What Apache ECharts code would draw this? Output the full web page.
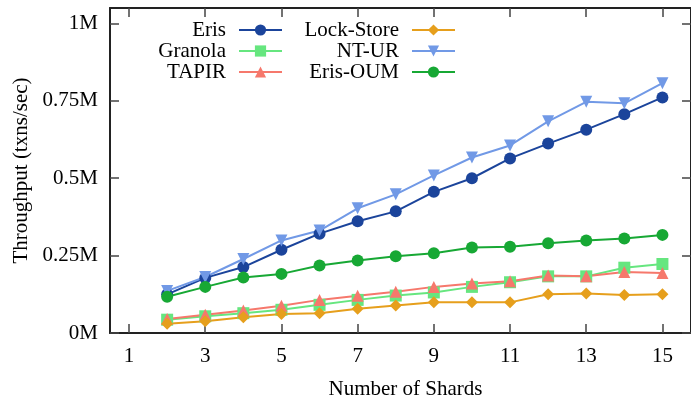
<!DOCTYPE html>
<html>
<head>
<meta charset="utf-8">
<script src="https://cdn.jsdelivr.net/npm/echarts@6/dist/echarts.min.js"></script>
<style>
html,body{margin:0;padding:0;background:#fff;}
#chart{width:691px;height:405px;}
</style>
</head>
<body>
<div id="chart"></div>
<script>
const shards = [2, 3, 4, 5, 6, 7, 8, 9, 10, 11, 12, 13, 14, 15];
const xTicks = [1, 3, 5, 7, 9, 11, 13, 15];
const yTicks = [0, 250000, 500000, 750000, 1000000];
const eris = [125000, 178000, 213000, 269000, 321000, 361000, 393000, 456000, 500000, 564000, 612000, 657000, 707000, 761000];
const granola = [43000, 54000, 64000, 75000, 91000, 107000, 121000, 131000, 149000, 164000, 183000, 183000, 211000, 223000];
const tapir = [45000, 59000, 73000, 88000, 107000, 120000, 133000, 149000, 160000, 167000, 186000, 183000, 197000, 194000];
const lockStore = [30000, 38000, 51000, 61000, 64000, 78000, 89000, 99000, 99000, 99000, 125000, 128000, 123000, 125000];
const ntur = [136000, 181000, 239000, 299000, 331000, 403000, 448000, 509000, 567000, 606000, 684000, 747000, 742000, 807000];
const erisOum = [117000, 149000, 179000, 191000, 218000, 234000, 248000, 258000, 276000, 279000, 290000, 299000, 305000, 317000];

const FONT = 'Liberation Serif';
const pairs = arr => shards.map((s, i) => [s, arr[i]]);

function mk(name, arr, color, symbol, rotate) {
  return {
    name: name, type: 'line', data: pairs(arr),
    symbol: symbol, symbolSize: 12, symbolRotate: rotate || 0,
    showSymbol: true,
    lineStyle: { color: color, width: 2 },
    itemStyle: { color: color },
    emphasis: { disabled: true },
    z: 2
  };
}

const axisLine = { show: true, onZero: false, lineStyle: { color: '#222', width: 2 } };
const tickStyle = { show: true, inside: true, length: 9, lineStyle: { color: '#444', width: 1.5 } };
const legendText = { fontFamily: FONT, fontSize: 21, color: '#000', lineHeight: 21, padding: [0, 8, 0, 0] };

const chart = echarts.init(document.getElementById('chart'), null, { renderer: 'canvas' });
chart.setOption({
  animation: false,
  backgroundColor: '#fff',
  grid: { left: 110, right: -1, top: 8, bottom: 68, containLabel: false },
  legend: [
    { data: ['Eris', 'Granola', 'TAPIR'], orient: 'vertical', align: 'right', right: 408, top: 19.5,
      padding: 0, itemGap: 0, itemWidth: 43, itemHeight: 14, textStyle: legendText, selectedMode: false },
    { data: ['Lock-Store', 'NT-UR', 'Eris-OUM'], orient: 'vertical', align: 'right', right: 235, top: 19.5,
      padding: 0, itemGap: 0, itemWidth: 43, itemHeight: 14, textStyle: legendText, selectedMode: false }
  ],
  xAxis: [
    { type: 'value', position: 'bottom', min: 0.5, max: 15.75,
      name: 'Number of Shards', nameLocation: 'middle', nameGap: 46,
      nameTextStyle: { fontFamily: FONT, fontSize: 21, color: '#000', padding: [0, 0, 0, 10] },
      axisLine: axisLine,
      axisTick: Object.assign({}, tickStyle, { customValues: xTicks }),
      axisLabel: { customValues: xTicks, margin: 13, fontFamily: FONT, fontSize: 21, color: '#000' },
      splitLine: { show: false } },
    { type: 'value', position: 'top', min: 0.5, max: 15.75,
      axisLine: axisLine,
      axisTick: Object.assign({}, tickStyle, { customValues: xTicks }),
      axisLabel: { show: false },
      splitLine: { show: false } }
  ],
  yAxis: [
    { type: 'value', position: 'left', min: 0, max: 1050000,
      name: 'Throughput (txns/sec)', nameLocation: 'middle', nameGap: 74, nameRotate: 90,
      nameTextStyle: { fontFamily: FONT, fontSize: 21, color: '#000' },
      axisLine: axisLine,
      axisTick: Object.assign({}, tickStyle, { customValues: yTicks }),
      axisLabel: { customValues: yTicks, margin: 12, fontFamily: FONT, fontSize: 21, color: '#000',
        formatter: v => (v / 1000000) + 'M' },
      splitLine: { show: false } },
    { type: 'value', position: 'right', min: 0, max: 1050000,
      axisLine: axisLine,
      axisTick: Object.assign({}, tickStyle, { customValues: yTicks }),
      axisLabel: { show: false },
      splitLine: { show: false } }
  ],
  series: [
    mk('Eris', eris, '#1b449b', 'circle'),
    mk('Granola', granola, '#66e67f', 'rect'),
    mk('TAPIR', tapir, '#f6786c', 'triangle'),
    mk('Lock-Store', lockStore, '#e69f1c', 'diamond'),
    mk('NT-UR', ntur, '#7199e6', 'triangle', 180),
    mk('Eris-OUM', erisOum, '#17a834', 'circle')
  ]
});
</script>
</body>
</html>
